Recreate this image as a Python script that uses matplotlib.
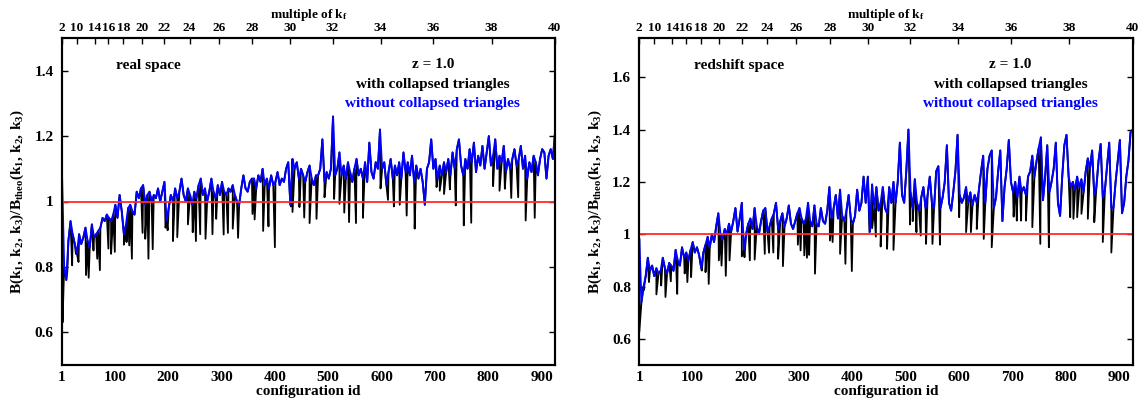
import numpy as np
import matplotlib
matplotlib.use("Agg")
import matplotlib.pyplot as plt

plt.rcParams['font.family'] = ['Liberation Serif', 'DejaVu Serif']
plt.rcParams['font.weight'] = 'bold'
plt.rcParams['axes.labelweight'] = 'bold'
plt.rcParams['mathtext.fontset'] = 'custom'
plt.rcParams['mathtext.rm'] = 'Liberation Serif:bold'
plt.rcParams['mathtext.it'] = 'Liberation Serif:bold'
plt.rcParams['mathtext.bf'] = 'Liberation Serif:bold'

# Bispectrum ratio B / B_theo sampled every `config_step` configurations (ids 1..925),
# excluding collapsed triangles.
config_step = 4

real_space = [
    1.08, 0.80, 0.76, 0.88, 0.94, 0.90, 0.87, 0.84, 0.90, 0.87,
    0.89, 0.92, 0.88, 0.86, 0.93, 0.89, 0.90, 0.91, 0.92, 0.95,
    0.94, 0.96, 0.95, 0.94, 0.96, 0.99, 0.95, 1.02, 0.97, 0.90,
    0.93, 0.98, 0.99, 0.97, 0.96, 1.03, 1.01, 1.04, 1.05, 0.99,
    1.02, 1.03, 1.00, 1.02, 1.01, 1.04, 1.00, 1.03, 1.06, 0.94,
    0.98, 1.02, 1.00, 1.04, 1.01, 1.03, 1.07, 1.02, 1.00, 1.04,
    1.02, 0.99, 1.03, 1.01, 1.05, 1.07, 1.02, 1.04, 1.00, 1.03,
    1.07, 1.03, 1.01, 1.05, 1.02, 1.06, 1.03, 1.02, 1.04, 1.03,
    1.05, 1.02, 1.00, 0.99, 1.04, 1.08, 1.04, 1.03, 1.06, 1.07,
    1.07, 1.04, 1.08, 1.06, 1.10, 1.05, 1.07, 1.04, 1.08, 1.05,
    1.06, 1.09, 1.05, 1.07, 1.06, 1.10, 1.12, 0.99, 1.13, 1.10,
    1.12, 1.07, 1.10, 1.08, 1.06, 1.09, 1.11, 1.07, 1.05, 1.08,
    1.08, 1.10, 1.19, 1.06, 1.09, 1.07, 1.10, 1.26, 1.08, 1.10,
    1.15, 1.08, 1.11, 1.07, 1.12, 1.09, 1.06, 1.10, 1.13, 1.08,
    1.10, 1.07, 1.12, 1.06, 1.18, 1.09, 1.07, 1.12, 1.10, 1.22,
    1.10, 1.12, 1.05, 1.09, 1.13, 1.07, 1.11, 1.08, 1.12, 1.07,
    1.15, 1.09, 1.12, 1.08, 1.14, 1.06, 1.11, 1.07, 1.10, 1.06,
    0.99, 1.10, 1.12, 1.19, 1.10, 1.13, 1.07, 1.11, 1.08, 1.12,
    1.09, 1.13, 1.08, 1.15, 1.10, 1.16, 1.19, 1.11, 1.08, 1.13,
    1.10, 1.16, 1.12, 1.18, 1.09, 1.14, 1.11, 1.17, 1.10, 1.15,
    1.20, 1.11, 1.14, 1.19, 1.10, 1.14, 1.12, 1.17, 1.09, 1.13,
    1.10, 1.13, 1.16, 1.11, 1.13, 1.17, 1.10, 1.14, 1.07, 1.12,
    1.09, 1.14, 1.12, 1.08, 1.13, 1.16, 1.15, 1.07, 1.14, 1.16,
    1.13, 1.21,
]

redshift_space = [
    0.98, 0.74, 0.80, 0.84, 0.91, 0.86, 0.88, 0.84, 0.87, 0.85,
    0.86, 0.91, 0.87, 0.85, 0.89, 0.88, 0.86, 0.94, 0.90, 0.88,
    0.95, 0.91, 0.93, 0.90, 0.94, 0.97, 0.93, 0.95, 0.92, 0.87,
    0.93, 0.96, 0.99, 0.95, 1.00, 0.97, 1.03, 1.08, 1.00, 0.98,
    1.02, 1.00, 1.04, 1.01, 1.05, 1.10, 1.01, 1.06, 1.12, 0.94,
    1.00, 1.04, 1.06, 1.02, 1.10, 1.03, 1.00, 1.05, 1.09, 1.10,
    1.01, 1.03, 1.06, 1.08, 1.12, 1.02, 1.05, 1.08, 1.03, 1.06,
    1.11, 1.04, 1.02, 1.05, 1.08, 1.10, 1.06, 1.04, 1.06, 1.12,
    1.05, 1.03, 1.11, 1.04, 1.03, 1.10, 1.05, 1.04, 1.09, 1.18,
    1.06, 1.10, 1.15, 1.06, 1.17, 1.07, 1.05, 1.09, 1.15, 1.06,
    1.04, 1.07, 1.17, 1.09, 1.12, 1.22, 1.12, 1.22, 1.01, 1.19,
    1.10, 1.18, 1.09, 1.12, 1.18, 1.10, 1.08, 1.18, 1.12, 1.20,
    1.12, 1.20, 1.35, 1.15, 1.12, 1.24, 1.40, 1.16, 1.10, 1.21,
    1.12, 1.09, 1.14, 1.18, 1.10, 1.15, 1.22, 1.12, 1.10, 1.24,
    1.26, 1.10, 1.14, 1.20, 1.34, 1.12, 1.09, 1.16, 1.24, 1.38,
    1.15, 1.12, 1.14, 1.18, 1.12, 1.16, 1.11, 1.15, 1.12, 1.17,
    1.24, 1.30, 1.12, 1.25, 1.30, 1.32, 1.10, 1.14, 1.24, 1.32,
    1.05, 1.18, 1.25, 1.36, 1.20, 1.16, 1.20, 1.14, 1.22, 1.16,
    1.18, 1.15, 1.22, 1.24, 1.30, 1.22, 1.28, 1.33, 1.37, 1.13,
    1.22, 1.34, 1.16, 1.20, 1.25, 1.35, 1.12, 1.07, 1.22, 1.34,
    1.38, 1.22, 1.18, 1.20, 1.17, 1.22, 1.18, 1.21, 1.16, 1.24,
    1.29, 1.25, 1.32, 1.15, 1.18, 1.28, 1.345, 1.14, 1.17, 1.26,
    1.35, 1.10, 1.10, 1.20, 1.28, 1.36, 1.08, 1.12, 1.22, 1.28,
    1.39, 1.40,
]

# Collapsed-triangle configurations (only present in the full set)
real_collapsed_ids = [
    2, 11, 20, 27, 32, 46, 51, 60, 67, 72, 88, 93, 100, 117, 122, 127, 132,
    152, 157, 163, 171, 195, 199, 209, 217, 237, 246, 252, 260, 270, 283, 290,
    304, 312, 321, 331, 358, 362, 378, 388, 400, 430, 433, 446, 455, 465, 478,
    493, 511, 521, 530, 539, 552, 565, 598, 612, 623, 634, 647, 662, 703, 709,
    717, 728, 739, 754, 768, 809, 821, 831, 843, 856, 870, 887,
]
real_collapsed = [
    0.63, 0.785, 0.805, 0.84, 0.815, 0.775, 0.767, 0.85, 0.825, 0.79, 0.856,
    0.84, 0.846, 0.868, 0.876, 0.866, 0.825, 0.904, 0.886, 0.825, 0.854,
    0.92, 0.912, 0.879, 0.891, 0.93, 0.906, 0.879, 0.90, 0.886, 0.90, 0.947,
    0.899, 0.904, 0.917, 0.889, 0.962, 0.945, 0.91, 0.924, 0.86, 0.985,
    0.968, 0.983, 0.951, 0.934, 0.947, 1.013, 1.008, 0.993, 0.966, 0.937,
    0.934, 0.95, 1.04, 1.005, 0.985, 0.99, 0.957, 0.917, 1.044, 1.033, 1.023,
    1.037, 0.988, 0.927, 0.935, 1.047, 1.033, 1.039, 1.011, 1.013, 0.942,
    0.95,
]

redshift_collapsed_ids = [
    1, 9, 19, 33, 42, 50, 60, 72, 86, 91, 98, 118, 125, 131, 150, 155, 163,
    170, 193, 198, 208, 217, 236, 244, 252, 261, 270, 298, 303, 310, 315, 319,
    330, 358, 363, 377, 387, 399, 432, 437, 444, 453, 465, 477, 508, 513, 520,
    528, 538, 550, 564, 600, 613, 622, 633, 646, 661, 702, 708, 716, 725, 737,
    752, 768, 808, 814, 821, 829, 841, 853, 869, 885,
]
redshift_collapsed = [
    0.626, 0.785, 0.817, 0.77, 0.804, 0.76, 0.82, 0.772, 0.85, 0.817, 0.836,
    0.861, 0.855, 0.81, 0.90, 0.88, 0.841, 0.90, 0.915, 0.912, 0.90, 0.903,
    0.925, 0.929, 0.93, 0.906, 0.878, 0.96, 0.938, 0.919, 0.91, 0.921, 0.849,
    0.976, 0.97, 0.925, 0.887, 0.859, 1.008, 1.023, 0.991, 0.953, 0.944, 0.94,
    1.037, 1.05, 1.008, 0.995, 0.963, 0.963, 0.96, 1.065, 1.008, 1.008, 1.02,
    0.982, 0.95, 1.067, 1.052, 1.052, 1.052, 1.027, 0.963, 0.95, 1.065, 1.059,
    1.065, 1.078, 1.059, 1.046, 0.97, 0.93,
]

# Upper axis: configuration id at which each k1 (in units of k_f) block sits
kf_multiples = [2, 10, 14, 16, 18, 20, 22, 24, 26, 28, 30, 32, 34, 36, 38, 40]
kf_config_ids = [1, 29, 63, 88, 116, 151, 193, 240, 295, 358, 429, 508, 598,
                 697, 806, 925]

config_ticks = [1, 100, 200, 300, 400, 500, 600, 700, 800, 900]

BLUE = '#0000ff'
RED = '#ff2a2a'

fig = plt.figure(figsize=(11.45, 4.07), dpi=100)


def draw_panel(rect, ratio, dip_ids, dip_vals, ylim, yticks, space_name):
    ax = fig.add_axes(rect)
    ratio = np.asarray(ratio, dtype=float)
    ids = np.arange(1, 1 + config_step * len(ratio), config_step)

    all_ids = np.concatenate([ids, np.asarray(dip_ids)])
    all_vals = np.concatenate([ratio, np.asarray(dip_vals, dtype=float)])
    order = np.argsort(all_ids, kind='stable')

    ax.plot(all_ids[order], all_vals[order], color='black', lw=1.3, zorder=2)
    ax.plot(ids, ratio, color=BLUE, lw=1.4, zorder=3)
    ax.axhline(1.0, color=RED, lw=1.3, zorder=4)

    ax.set_xlim(1, 925)
    ax.set_ylim(*ylim)
    ax.set_xticks(config_ticks)
    ax.set_xticklabels([str(t) for t in config_ticks])
    ax.set_yticks(yticks)
    ax.set_yticklabels([('%g' % t) for t in yticks])
    ax.tick_params(axis='x', which='both', bottom=True, top=False, length=0,
                   labelsize=11, pad=4)
    ax.tick_params(axis='y', which='both', direction='in', left=True,
                   right=True, length=4, width=1, labelsize=11, pad=6)
    for sp in ax.spines.values():
        sp.set_linewidth(1.5)

    ax.set_xlabel('configuration id', fontsize=11, fontweight='bold', labelpad=1)
    ax.set_ylabel(r'$B(k_1,\,k_2,\,k_3)/B_{theo}(k_1,\,k_2,\,k_3)$',
                  fontsize=11, labelpad=6)

    top = ax.twiny()
    top.set_xlim(ax.get_xlim())
    top.set_xticks(kf_config_ids)
    top.set_xticklabels([str(m) for m in kf_multiples], fontweight='bold')
    top.tick_params(axis='x', direction='in', length=4, width=1,
                    labelsize=9.5, pad=3)
    top.set_xlabel(r'multiple of $k_f$', fontsize=9.5, fontweight='bold',
                   labelpad=3)
    for sp in top.spines.values():
        sp.set_linewidth(1.5)

    ax.text(0.11, 0.917, space_name, transform=ax.transAxes, fontsize=11,
            fontweight='bold', ha='left', va='center')
    ax.text(0.752, 0.92, 'z = 1.0', transform=ax.transAxes, fontsize=11,
            fontweight='bold', ha='center', va='center')
    ax.text(0.752, 0.859, 'with collapsed triangles', transform=ax.transAxes,
            fontsize=11, fontweight='bold', ha='center', va='center',
            color='black')
    ax.text(0.752, 0.801, 'without collapsed triangles',
            transform=ax.transAxes, fontsize=11, fontweight='bold',
            ha='center', va='center', color=BLUE)
    return ax


draw_panel([62 / 1145, 42 / 407, 493 / 1145, 327 / 407],
           real_space, real_collapsed_ids, real_collapsed,
           (0.5, 1.5), [0.6, 0.8, 1.0, 1.2, 1.4], 'real space')

draw_panel([639.3 / 1145, 42 / 407, 493.4 / 1145, 327 / 407],
           redshift_space, redshift_collapsed_ids, redshift_collapsed,
           (0.5, 1.75), [0.6, 0.8, 1.0, 1.2, 1.4, 1.6], 'redshift space')

fig.savefig('out.png', dpi=100)
